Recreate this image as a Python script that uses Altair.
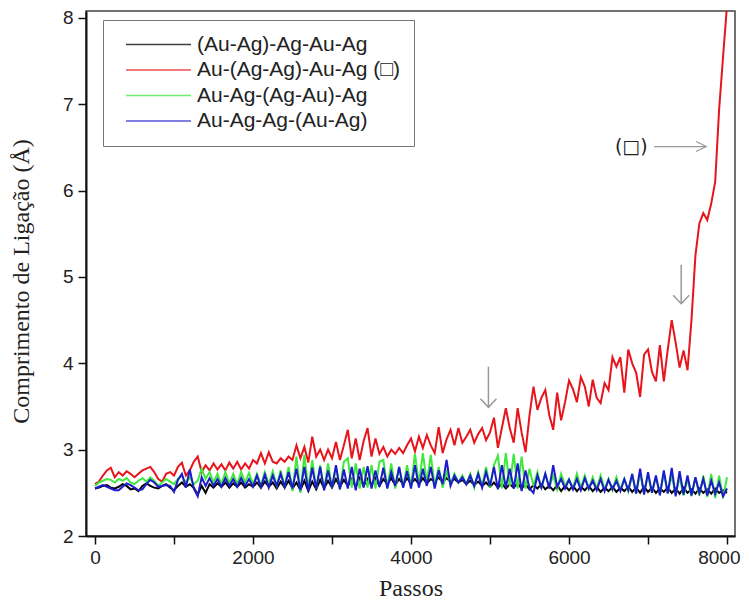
import altair as alt
import pandas as pd

STEP = 50  # passos between read samples

black = [
    2.55, 2.56, 2.58, 2.59, 2.56, 2.55, 2.57, 2.60, 2.58, 2.54,
    2.55, 2.52, 2.58, 2.61, 2.58, 2.56, 2.55, 2.58, 2.60, 2.56,
    2.53, 2.58, 2.62, 2.57, 2.60, 2.56, 2.48, 2.58, 2.50, 2.60,
    2.56, 2.61, 2.57, 2.62, 2.56, 2.61, 2.57, 2.62, 2.56, 2.60,
    2.57, 2.62, 2.56, 2.63, 2.57, 2.62, 2.55, 2.63, 2.56, 2.64,
    2.55, 2.62, 2.53, 2.64, 2.52, 2.63, 2.54, 2.65, 2.55, 2.64,
    2.56, 2.66, 2.57, 2.65, 2.58, 2.66, 2.57, 2.67, 2.58, 2.66,
    2.59, 2.67, 2.58, 2.66, 2.60, 2.67, 2.59, 2.66, 2.60, 2.67,
    2.61, 2.66, 2.60, 2.67, 2.61, 2.66, 2.63, 2.68, 2.62, 2.67,
    2.63, 2.66, 2.62, 2.65, 2.60, 2.64, 2.59, 2.63, 2.58, 2.62,
    2.57, 2.62, 2.56, 2.61, 2.55, 2.60, 2.56, 2.61, 2.55, 2.60,
    2.54, 2.59, 2.55, 2.60, 2.54, 2.58, 2.53, 2.59, 2.52, 2.58,
    2.53, 2.58, 2.52, 2.57, 2.53, 2.58, 2.52, 2.57, 2.51, 2.56,
    2.52, 2.57, 2.51, 2.56, 2.52, 2.57, 2.51, 2.56, 2.50, 2.57,
    2.51, 2.56, 2.50, 2.55, 2.51, 2.56, 2.50, 2.55, 2.49, 2.56,
    2.50, 2.54, 2.49, 2.55, 2.50, 2.54, 2.49, 2.55, 2.50, 2.53,
    2.50,
]

red = [
    2.60, 2.63, 2.70, 2.76, 2.79, 2.68, 2.74, 2.70, 2.75, 2.72,
    2.68, 2.72, 2.76, 2.78, 2.80, 2.74, 2.66, 2.63, 2.72, 2.74,
    2.70, 2.80, 2.85, 2.70, 2.76, 2.86, 2.92, 2.74, 2.82, 2.76,
    2.84, 2.77, 2.83, 2.76, 2.85, 2.78, 2.86, 2.77, 2.84, 2.78,
    2.88, 2.84, 2.96, 2.84, 2.97, 2.86, 2.84, 2.90, 2.86, 2.92,
    2.88, 3.05, 2.90, 3.03, 2.85, 3.15, 2.92, 3.00, 2.88, 3.00,
    2.90, 3.09, 2.88, 3.05, 3.23, 2.90, 3.13, 2.88, 3.10, 3.25,
    2.92, 3.13, 2.95, 3.03, 2.92, 3.00, 2.95, 3.02, 2.96, 3.05,
    3.13, 2.98, 3.15, 3.02, 3.17, 3.05, 2.96, 3.26, 2.96, 3.12,
    3.23, 3.05, 3.25, 3.08, 3.15, 3.23, 3.08, 3.18, 3.25, 3.11,
    3.20, 3.37, 3.02, 3.25, 3.48, 3.25, 3.08, 3.48, 3.20, 2.97,
    3.40, 3.73, 3.46, 3.60, 3.69, 3.40, 3.23, 3.66, 3.34, 3.55,
    3.80, 3.70, 3.55, 3.84, 3.73, 3.50, 3.81, 3.60, 3.54, 3.77,
    3.69, 4.07, 3.96, 4.07, 3.66, 4.16, 4.00, 3.89, 3.61, 4.10,
    4.16, 3.90, 3.79, 4.21, 3.79, 4.16, 4.50, 4.24, 3.95, 4.15,
    3.92, 4.50, 5.25, 5.62, 5.74, 5.66, 5.85, 6.10, 6.94, 7.55,
    8.15,
]

green = [
    2.58, 2.62, 2.64, 2.66, 2.65, 2.62, 2.66, 2.64, 2.67, 2.62,
    2.60, 2.64, 2.67, 2.63, 2.68, 2.64, 2.58, 2.62, 2.66, 2.63,
    2.60, 2.66, 2.70, 2.62, 2.68, 2.60, 2.64, 2.78, 2.66, 2.74,
    2.62, 2.72, 2.60, 2.74, 2.61, 2.72, 2.60, 2.74, 2.62, 2.73,
    2.60, 2.72, 2.58, 2.74, 2.60, 2.75, 2.58, 2.76, 2.57, 2.80,
    2.52, 2.92, 2.50, 2.94, 2.55, 2.88, 2.55, 2.82, 2.54, 2.84,
    2.56, 2.80, 2.54, 2.86, 2.90, 2.56, 2.84, 2.55, 2.80, 2.56,
    2.82, 2.55, 2.86, 2.88, 2.56, 2.84, 2.55, 2.80, 2.56, 2.82,
    2.58, 2.95, 2.60, 2.96, 2.62, 2.94, 2.58, 2.80, 2.56, 2.74,
    2.60, 2.72, 2.62, 2.70, 2.60, 2.72, 2.56, 2.74, 2.58, 2.80,
    2.56, 2.82, 2.93, 2.55, 2.96, 2.58, 2.95, 2.55, 2.92, 2.55,
    2.78, 2.58, 2.74, 2.55, 2.72, 2.57, 2.70, 2.54, 2.72, 2.58,
    2.66, 2.55, 2.72, 2.56, 2.70, 2.54, 2.68, 2.55, 2.70, 2.54,
    2.66, 2.53, 2.68, 2.54, 2.66, 2.52, 2.70, 2.50, 2.72, 2.51,
    2.70, 2.50, 2.68, 2.49, 2.72, 2.50, 2.70, 2.48, 2.68, 2.47,
    2.66, 2.46, 2.68, 2.47, 2.70, 2.45, 2.72, 2.44, 2.70, 2.44,
    2.68,
]

blue = [
    2.55, 2.57, 2.59, 2.57, 2.55, 2.53, 2.53, 2.57, 2.61, 2.59,
    2.56, 2.53, 2.54, 2.60, 2.65, 2.62, 2.57, 2.58, 2.59, 2.58,
    2.51, 2.65, 2.72, 2.56, 2.77, 2.55, 2.46, 2.68, 2.58, 2.67,
    2.58, 2.66, 2.57, 2.67, 2.58, 2.66, 2.57, 2.67, 2.58, 2.66,
    2.57, 2.70, 2.57, 2.71, 2.56, 2.70, 2.58, 2.72, 2.57, 2.74,
    2.55, 2.78, 2.53, 2.80, 2.52, 2.79, 2.55, 2.80, 2.53, 2.76,
    2.56, 2.82, 2.54, 2.77, 2.55, 2.80, 2.53, 2.78, 2.56, 2.81,
    2.55, 2.76, 2.57, 2.79, 2.55, 2.74, 2.58, 2.80, 2.56, 2.75,
    2.55, 2.82, 2.56, 2.78, 2.58, 2.80, 2.55, 2.76, 2.60, 2.88,
    2.58, 2.70, 2.62, 2.68, 2.60, 2.70, 2.58, 2.72, 2.56, 2.74,
    2.58, 2.80, 2.54, 2.82, 2.56, 2.78, 2.55, 2.84, 2.52, 2.76,
    2.55, 2.50, 2.70, 2.56, 2.72, 2.55, 2.82, 2.57, 2.66, 2.55,
    2.65, 2.54, 2.66, 2.53, 2.67, 2.55, 2.64, 2.53, 2.66, 2.52,
    2.65, 2.54, 2.64, 2.52, 2.66, 2.53, 2.72, 2.49, 2.78, 2.48,
    2.74, 2.50, 2.70, 2.47, 2.76, 2.49, 2.79, 2.46, 2.75, 2.48,
    2.70, 2.47, 2.68, 2.50, 2.66, 2.47, 2.64, 2.49, 2.62, 2.46,
    2.55,
]

names = ["(Au-Ag)-Ag-Au-Ag", "Au-(Ag-Ag)-Au-Ag (\u25a1)",
         "Au-Ag-(Ag-Au)-Ag", "Au-Ag-Ag-(Au-Ag)"]
colors = ["#000000", "#e8141b", "#3ee83e", "#1c1ccc"]

x_ticks = [0, 1000, 2000, 3000, 4000, 5000, 6000, 7000, 8000]
y_ticks = [2, 2.5, 3, 3.5, 4, 4.5, 5, 5.5, 6, 6.5, 7, 7.5, 8]

# annotation arrows (data coordinates)
down_x = [4980, 7420]
down_top = [3.96, 5.14]
down_tip = [3.49, 4.69]
right_x0 = [7078]
right_x1 = [7736]
right_y = [6.51]
mark_label = ["(\u25a1)"]
mark_label_x = [6788]

rows = []
for name, vals in zip(names, [black, red, green, blue]):
    for i, v in enumerate(vals):
        rows.append({"passos": i * STEP, "valor": v, "serie": name})
df = pd.DataFrame(rows)

x_scale = alt.Scale(domain=[-114, 8101], nice=False, zero=False)
y_scale = alt.Scale(domain=[2, 8.08], nice=False, zero=False)
color_scale = alt.Scale(domain=names, range=colors)

x_axis = alt.Axis(
    values=x_ticks, format="d",
    labelExpr="datum.value % 2000 == 0 ? datum.label : ''",
    tickSize=8, tickWidth=1.5, tickColor="#111",
    domainColor="#111", domainWidth=2, grid=False,
    labelFont="Liberation Sans", labelFontSize=19, labelColor="#222",
    labelPadding=4, labelFlush=8.5, labelFlushOffset=13,
    title="Passos", titleFont="Liberation Serif", titleFontSize=24,
    titleFontWeight="normal", titleColor="#222", titleY=40,
)
y_axis = alt.Axis(
    values=y_ticks, format="d",
    labelExpr="datum.value % 1 == 0 ? datum.label : ''",
    tickSize=8, tickWidth=1.5, tickColor="#111",
    domainColor="#111", domainWidth=2, grid=False,
    labelFont="Liberation Sans", labelFontSize=19, labelColor="#222",
    labelPadding=5,
    title="Comprimento de Ligação (Å)", titleFont="Liberation Serif",
    titleFontSize=24, titleFontWeight="normal", titleColor="#222",
    titleX=-53, titleY=270,
)

legend = alt.Legend(
    orient="none", legendX=17, legendY=9, title=None,
    symbolType="stroke", symbolSize=4225, symbolStrokeWidth=1.3,
    symbolOpacity=0.75, clipHeight=21, rowPadding=3.5, padding=14,
    symbolOffset=8, labelOffset=5,
    strokeColor="#777", fillColor="white",
    labelFont="Liberation Sans", labelFontSize=21, labelColor="#222",
    labelLimit=500,
)

X = lambda f: alt.X(f, scale=x_scale, axis=x_axis)
Y = lambda f: alt.Y(f, scale=y_scale, axis=y_axis)

layers = []
for k, name in enumerate(names):
    layers.append(
        alt.Chart(df)
        .transform_filter(alt.datum.serie == name)
        .mark_line(strokeWidth=2, clip=True)
        .encode(
            x=X("passos:Q"),
            y=Y("valor:Q"),
            color=alt.Color("serie:N", scale=color_scale, legend=legend),
        )
    )

down_df = pd.DataFrame({"x": down_x, "y0": down_top, "y1": down_tip})
right_df = pd.DataFrame({"x0": right_x0, "x1": right_x1, "y": right_y})
label_df = pd.DataFrame({"x": mark_label_x, "y": right_y, "t": mark_label})

arrow_color = "#999999"
down_shaft = alt.Chart(down_df).mark_rule(color=arrow_color, strokeWidth=1.5).encode(
    x=X("x:Q"), y=Y("y0:Q"), y2="y1:Q",
)
down_head = alt.Chart(down_df).mark_point(
    shape="M-1.6,-1.7L0,0L1.6,-1.7", size=100, filled=False,
    color=arrow_color, strokeWidth=1.5, opacity=1,
).encode(x=X("x:Q"), y=Y("y1:Q"))
right_shaft = alt.Chart(right_df).mark_rule(color=arrow_color, strokeWidth=1.2).encode(
    x=X("x0:Q"), x2="x1:Q", y=Y("y:Q"),
)
right_head = alt.Chart(right_df).mark_point(
    shape="M-2,-1L0,0L-2,1", size=100, filled=False,
    color=arrow_color, strokeWidth=1.2, opacity=1,
).encode(x=X("x1:Q"), y=Y("y:Q"))
label = alt.Chart(label_df).mark_text(
    font="DejaVu Sans", fontSize=19, color="#222", align="center", baseline="middle",
).encode(x=X("x:Q"), y=Y("y:Q"), text="t:N")

chart = (
    alt.layer(*layers, down_shaft, down_head, right_shaft, right_head, label)
    .properties(
        width=649, height=525,
        autosize=alt.AutoSizeParams(type="none"),
        padding={"left": 78, "top": 3, "right": 6, "bottom": 63},
        background="white",
    )
    .configure_view(stroke="#444", strokeWidth=1.5)
)

chart.save("out.html", embed_options={"renderer": "svg", "actions": False})
